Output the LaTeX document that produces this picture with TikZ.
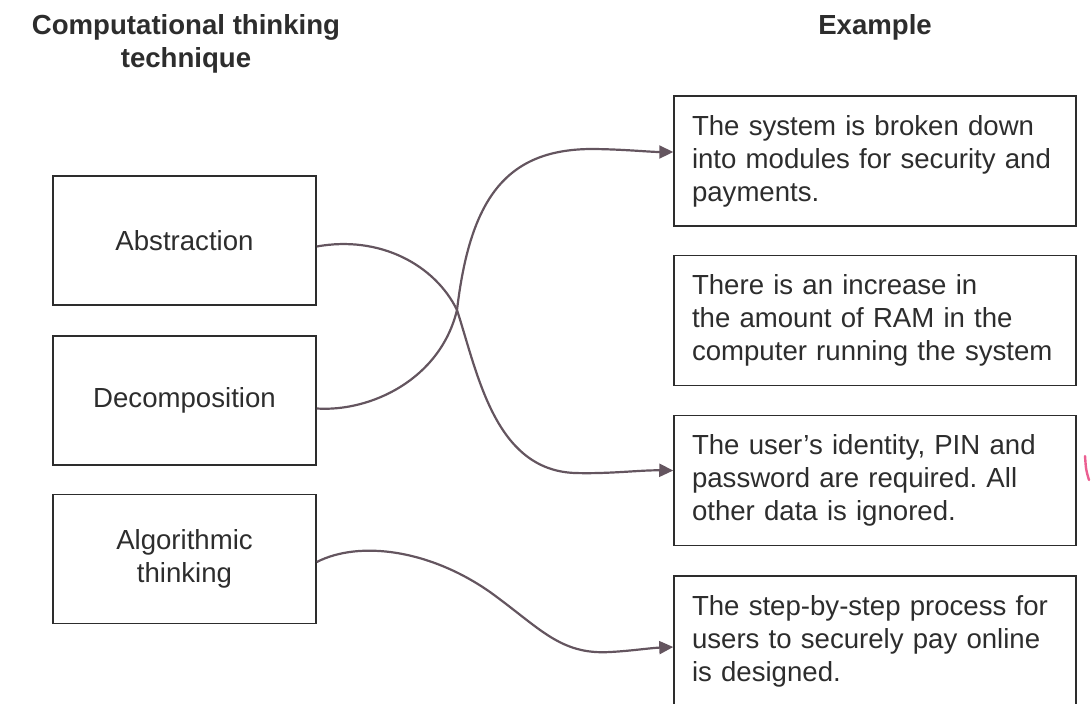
\documentclass[tikz,border=0pt]{standalone}
\usepackage{fontspec}
\setmainfont{Liberation Sans}
\usetikzlibrary{arrows.meta}
\definecolor{inkgrey}{RGB}{45,45,45}
\definecolor{pen}{RGB}{100,85,95}
\definecolor{redpen}{RGB}{235,95,145}
\frenchspacing
\begin{document}
\begin{tikzpicture}[x=0.5pt,y=-0.5pt,
  every node/.style={font=\fontsize{13.8}{16.5}\selectfont,text=inkgrey},
  hdr/.style={font=\bfseries\fontsize{13.8}{16.5}\selectfont,align=center},
  techbox/.style={draw=inkgrey,line width=0.75pt,minimum width=131.5pt,
    minimum height=64.5pt,inner sep=0pt,align=center},
  examplebox/.style={draw=inkgrey,line width=0.75pt,minimum width=201pt,
    minimum height=65pt,text width=183pt,inner xsep=9pt,inner ysep=0pt,align=left},
  link/.style={draw=pen,line width=1.1pt,-{Triangle[length=7pt,width=6.5pt]}}]
% page, 1091 x 703 px
\useasboundingbox (0,0) rectangle (1091,703);
\clip (0,0) rectangle (1091,703);
% headings
\node[hdr] (hleft) at (186,43.5) {Computational thinking\\technique};
\node[hdr] (hright) at (875,27) {Example};
% techniques
\node[techbox] (abs) at (184.5,240.5) {Abstraction};
\node[techbox] (dec) at (184.5,400.5) {Decomposition};
\node[techbox] (alg) at (184.5,559) {Algorithmic\\thinking};
% examples
\node[examplebox] (ex1) at (875,161)
  {The system is broken down\\into modules for security and\\payments.};
\node[examplebox] (ex2) at (875,320.5)
  {There is an increase in\\the amount of RAM in the\\computer running the system};
\node[examplebox] (ex3) at (875,480.5)
  {The user’s identity, PIN and\\password are required. All\\other data is ignored.};
\node[examplebox] (ex4) at (875,641)
  {The step-by-step process for\\users to securely pay online\\is designed.};
% hand drawn links
\draw[link] ([yshift=-3pt]abs.east)
  .. controls (380,235) and (435,265) .. (457,310)
  .. controls (478,375) and (495,470) .. (575,473)
  .. controls (610,474) and (640,470) .. ([yshift=5pt]ex3.west);
\draw[link] ([yshift=-4pt]dec.east)
  .. controls (370,412) and (440,380) .. (457,310)
  .. controls (470,200) and (505,150) .. (590,149)
  .. controls (620,149) and (650,152) .. ([yshift=4.5pt]ex1.west);
\draw[link] ([yshift=-1.5pt]alg.east)
  .. controls (360,540) and (430,550) .. (490,592)
  .. controls (540,628) and (560,655) .. (610,652)
  .. controls (630,651) and (650,648) .. ([yshift=-3pt]ex4.west);
% stray pen mark
\draw[redpen,line width=1.2pt,line cap=round] (1085,456) .. controls (1086,470) .. (1089,480);
\end{tikzpicture}
\end{document}
